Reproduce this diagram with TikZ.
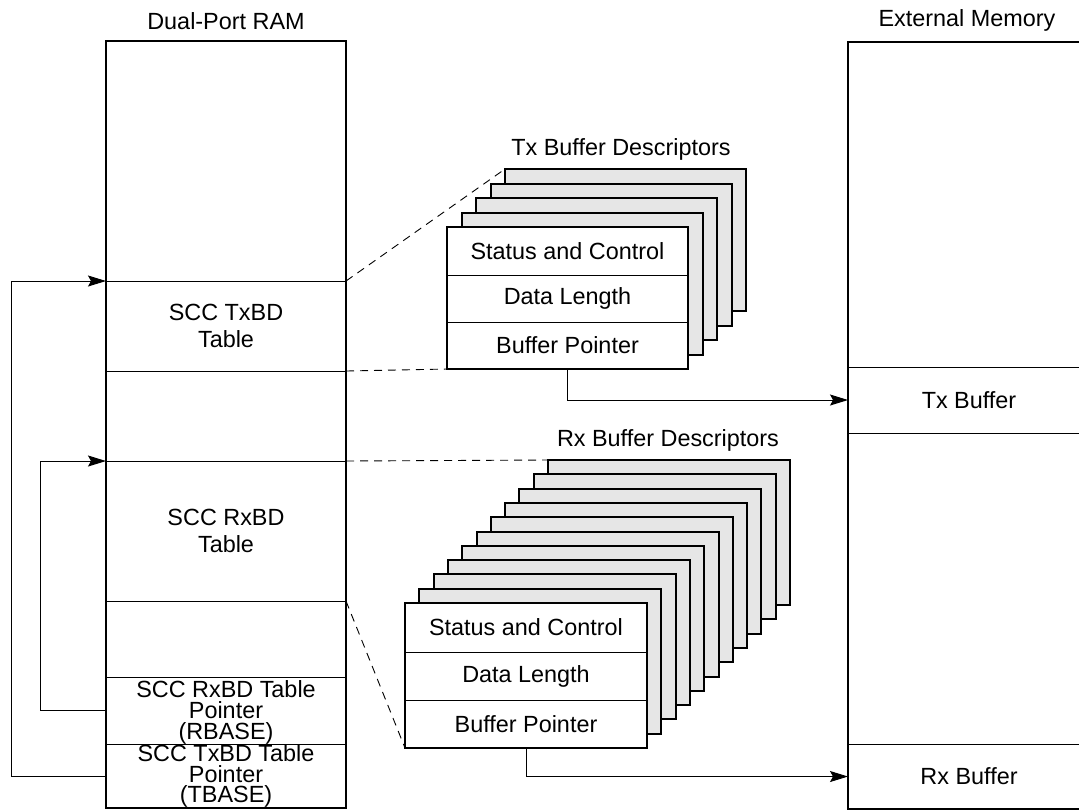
\documentclass[tikz,border=0pt]{standalone}
\usepackage{fontspec}
\setmainfont{Liberation Sans}
\usetikzlibrary{arrows.meta,positioning}
\definecolor{bdgray}{HTML}{E6E6E6}
\begin{document}
\begin{tikzpicture}[x=0.5pt,y=-0.5pt,
  font=\fontsize{11.7}{13.5}\selectfont,
  cell/.style={draw,line width=0.5pt,minimum width=120pt,inner sep=0pt,
    outer sep=0pt,align=center},
  frame/.style={draw,line width=1pt},
  bdback/.style={draw,line width=1pt,fill=bdgray},
  bdfield/.style={draw,line width=0.5pt,fill=white,minimum width=120.5pt,
    inner sep=0pt,outer sep=0pt},
  ptr/.style={-{Stealth[length=9pt,width=5.5pt,inset=1.5pt]},line width=0.5pt},
  link/.style={dash pattern=on 4pt off 3pt,line width=0.45pt}]
  \useasboundingbox (0,0) rectangle (1079,811);

  % dual-port RAM column
  \node at (226,21) {Dual-Port RAM};
  \node[cell,minimum height=120pt] (dprtop) at (226,161) {};
  \node[cell,minimum height=45pt,below=0pt of dprtop] (txtab) {SCC TxBD\\Table};
  \node[cell,minimum height=45pt,below=0pt of txtab] (gapa) {};
  \node[cell,minimum height=70pt,below=0pt of gapa] (rxtab) {SCC RxBD\\Table};
  \node[cell,minimum height=38pt,below=0pt of rxtab] (gapb) {};
  \node[cell,minimum height=33.5pt,below=0pt of gapb] (rbase) {};
  \node[cell,minimum height=32pt,below=0pt of rbase] (tbase) {};
  \node[align=center,font=\fontsize{11.7}{10.4}\selectfont] at ([yshift=-1pt]rbase.center)
    {SCC RxBD Table\\Pointer\\(RBASE)};
  \node[align=center,font=\fontsize{11.7}{10.2}\selectfont] at (tbase.center)
    {SCC TxBD Table\\Pointer\\(TBASE)};
  \draw[frame] (dprtop.north west) rectangle (tbase.south east);

  % external memory column
  \node at (967,20) {External Memory};
  \node[cell,minimum width=121pt,minimum height=162.5pt] (emtop) at (969,204.5) {};
  \node[cell,minimum width=121pt,minimum height=33pt,below=0pt of emtop] (txbuf) {Tx Buffer};
  \node[cell,minimum width=121pt,minimum height=155.5pt,below=0pt of txbuf] (emmid) {};
  \node[cell,minimum width=121pt,minimum height=32.5pt,below=0pt of emmid] (rxbuf) {Rx Buffer};
  \draw[frame] (emtop.north west) rectangle (rxbuf.south east);

  % Tx buffer descriptors
  \node at (621,149) {Tx Buffer Descriptors};
  \foreach \i in {4,3,2,1}
    \draw[bdback] (447+\i*14.5,227-\i*14.5) rectangle ++(241,142);
  \coordinate (txlast) at (505,169);
  \node[bdfield,minimum height=24pt] (txsc) at (567.5,251) {Status and Control};
  \node[bdfield,minimum height=23.5pt,below=0pt of txsc] (txdl) {Data Length};
  \node[bdfield,minimum height=23.5pt,below=0pt of txdl] (txbp) {Buffer Pointer};
  \draw[frame] (txsc.north west) rectangle (txbp.south east);

  % Rx buffer descriptors
  \node at (668,440) {Rx Buffer Descriptors};
  \foreach \i in {10,9,...,1}
    \draw[bdback] (405+\i*14.3,603-\i*14.3) rectangle ++(242,145);
  \coordinate (rxlast) at (548,460);
  \node[bdfield,minimum width=121pt,minimum height=24.5pt] (rxsc) at (526,627.5) {Status and Control};
  \node[bdfield,minimum width=121pt,minimum height=24pt,below=0pt of rxsc] (rxdl) {Data Length};
  \node[bdfield,minimum width=121pt,minimum height=24pt,below=0pt of rxdl] (rxbp) {Buffer Pointer};
  \draw[frame] (rxsc.north west) rectangle (rxbp.south east);

  % dashed table links
  \draw[link] (txtab.north east) -- (txlast);
  \draw[link] (txtab.south east) -- (txbp.south west);
  \draw[link] (rxtab.north east) -- (rxlast);
  \draw[link] (rxtab.south east) -- (rxbp.south west);

  % pointers
  \draw[ptr] (txbp.south) |- (txbuf.west);
  \draw[ptr] (rxbp.south) |- (rxbuf.west);
  \draw[ptr] (tbase.west) -- ++(-95,0) |- (txtab.north west);
  \draw[ptr] (rbase.west) -- ++(-66,0) |- (rxtab.north west);
\end{tikzpicture}
\end{document}
